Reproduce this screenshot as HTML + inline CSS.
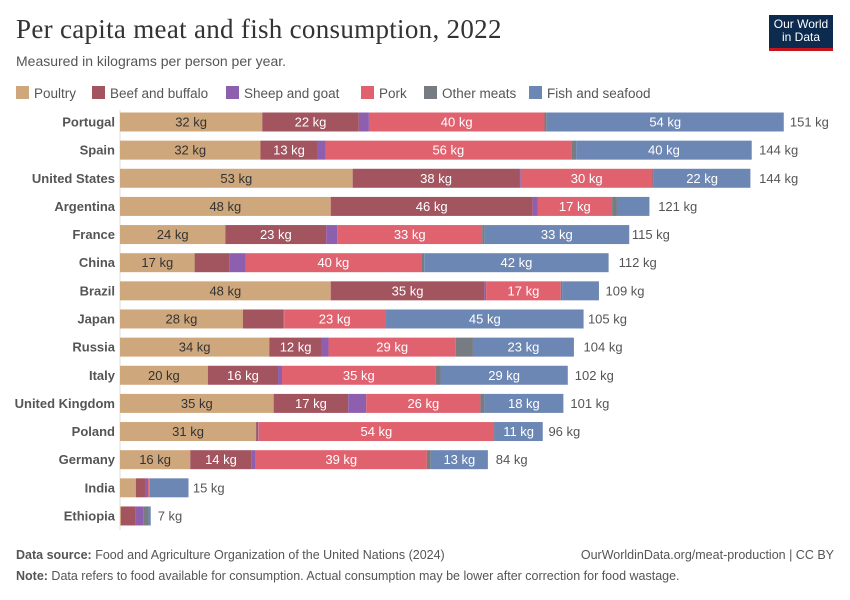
<!DOCTYPE html>
<html><head><meta charset="utf-8"><style>
body{margin:0;background:#fff;font-family:"Liberation Sans",sans-serif;}
#wrap{position:relative;width:850px;height:600px;overflow:hidden;}
.t{position:absolute;white-space:nowrap;}
</style></head><body>
<div id="wrap">
<div class="t" style="left:16px;top:14px;font-family:'Liberation Serif',serif;font-size:27px;color:#333;letter-spacing:0.3px;">Per capita meat and fish consumption, 2022</div>
<div class="t" style="left:16px;top:53px;font-size:14px;color:#555;">Measured in kilograms per person per year.</div>
<div style="position:absolute;left:769px;top:15px;width:64px;height:36px;background:#0d2a4f;border-bottom:3px solid #c4161c;color:#fff;font-size:12px;line-height:13px;text-align:center;padding-top:3px;box-sizing:border-box;">Our World<br>in Data</div>
<svg id="chart" width="850" height="600" style="position:absolute;left:0;top:0"></svg>
<div class="t" style="left:16px;top:548px;font-size:12.5px;color:#555;"><b>Data source:</b> Food and Agriculture Organization of the United Nations (2024)</div>
<div class="t" style="right:16px;top:548px;font-size:12.5px;color:#555;">OurWorldinData.org/meat-production | CC BY</div>
<div class="t" style="left:16px;top:569px;font-size:12.5px;color:#555;"><b>Note:</b> Data refers to food available for consumption. Actual consumption may be lower after correction for food wastage.</div>
</div>
<script>
const countries=["Portugal","Spain","United States","Argentina","France","China","Brazil","Japan","Russia","Italy","United Kingdom","Poland","Germany","India","Ethiopia"];
const seriesNames=["Poultry","Beef and buffalo","Sheep and goat","Pork","Other meats","Fish and seafood"];
const poultry=[32.4,32,53,48,24,17,48,28,34,20,35,31,16,3.6,0.2];
const beef=[22,13,38,46,23,8,35,9.3,12,16,17,0.5,14,2.3,3.4];
const sheep=[2.3,1.8,0.3,1.1,2.5,3.6,0.4,0.1,1.5,0.9,4.1,0.1,0.9,0.5,1.8];
const pork=[40,56,30,17,33,40,17,23,29,35,26,53.6,39,0.3,0];
const other=[0.5,1.1,0.3,1.1,0.5,0.7,0.3,0.2,3.9,1.1,0.9,0.1,0.9,0.1,1.1];
const fish=[54,40,22,7.4,33,42,8.4,45,23,29,18,11,13,8.8,0.5];
const totals=[151,144,144,121,115,112,109,105,104,102,101,96,84,15,7];
const series=[poultry,beef,sheep,pork,other,fish];
const colors=["#cfa77c","#a2545f","#8d5fae","#e0626f","#777b82","#6d87b4"];
const textCol=["#333","#fff","#fff","#fff","#fff","#fff"];
const x0=120,kgPx=4.39,y0=122,step=28.14,bh=19;
const xS=v=>v*kgPx;
const yS=i=>y0+i*step;
const NS="http://www.w3.org/2000/svg";
const svg=document.getElementById('chart');
function mk(tag,attrs){const e=document.createElementNS(NS,tag);for(const k in attrs)e.setAttribute(k,attrs[k]);svg.appendChild(e);return e;}
const legX=[16,92,226,361,424,529];
seriesNames.forEach((n,s)=>{
 const lx=legX[s];
 const r=mk('rect',{x:lx,y:86,width:13,height:13,fill:colors[s]});
 
 
 const t=mk('text',{x:lx+18,y:98,'font-size':13.5,fill:'#555','font-family':'Liberation Sans, sans-serif'});
 t.textContent=n;
 
 
});
const ax=mk('line',{x1:x0,x2:x0,y1:110,y2:530,stroke:'#ddd'});


countries.forEach((c,i)=>{
 const cy=yS(i);
 const lb=mk('text',{x:x0-5,y:cy+4.5,'text-anchor':'end','font-size':13,'font-weight':'bold',fill:'#555','font-family':'Liberation Sans, sans-serif'});
 lb.textContent=c;
 
 
 let x=x0;
 series.forEach((arr,s)=>{
  const w=xS(arr[i]);
  if(w>0){
   const r=mk('rect',{x:x,y:cy-bh/2,width:w,height:bh,fill:colors[s]});
   
   
   if(w>42){
    const t=mk('text',{x:x+w/2,y:cy+4.5,'text-anchor':'middle','font-size':13,fill:textCol[s],'font-family':'Liberation Sans, sans-serif'});
    t.textContent=Math.round(arr[i])+' kg';
    
    
   }
  }
  x+=w;
 });
 const tt=mk('text',{x:x0+xS(totals[i])+7,y:cy+4.5,'font-size':13,fill:'#555','font-family':'Liberation Sans, sans-serif'});
 tt.textContent=totals[i]+' kg';
 
 
});
</script>
</body></html>
